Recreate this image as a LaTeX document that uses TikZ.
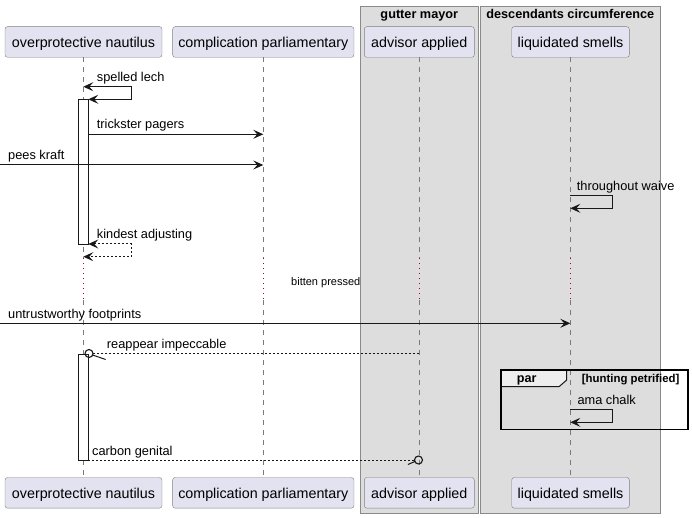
\documentclass[tikz,border=0pt]{standalone}
\usepackage{fontspec}
\setmainfont{Liberation Sans}
\usetikzlibrary{arrows.meta}
\definecolor{partfill}{HTML}{E2E2F0}
\definecolor{partline}{HTML}{808080}
\definecolor{boxfill}{HTML}{DDDDDD}
\definecolor{boxline}{HTML}{8A8A8A}
\definecolor{ink}{HTML}{181818}
\definecolor{lifecol}{HTML}{7A7A7A}
\definecolor{delayred}{HTML}{A80036}
\definecolor{tabfill}{HTML}{EEEEEE}
\begin{document}
\begin{tikzpicture}[x=1pt,y=-1pt,
  >={Stealth[length=10pt,width=9pt,inset=4pt]},
  part/.style={draw=partline,fill=partfill,rounded corners=2.5pt,minimum height=30.6pt,inner sep=0pt,text height=12.4pt,text depth=1pt,font=\fontsize{14.3}{16}\selectfont},
  grp/.style={draw=boxline,fill=boxfill,line width=0.8pt},
  grptitle/.style={font=\bfseries\fontsize{12.7}{15}\selectfont,anchor=base,inner sep=0pt},
  life/.style={draw=lifecol,line width=0.7pt,dash pattern=on 5pt off 5pt},
  delayline/.style={draw=delayred,line width=0.8pt,dash pattern=on 1pt off 4pt},
  act/.style={draw=ink,fill=white,line width=1pt},
  msgline/.style={draw=ink,line width=1pt},
  retline/.style={draw=ink,line width=1pt,dash pattern=on 2pt off 2pt},
  msg/.style={font=\fontsize{12.8}{15}\selectfont,anchor=base west,inner sep=0pt},
]
\useasboundingbox (0,0) rectangle (692,518);

% groups
\draw[grp] (360.3,6.7) rectangle (478.3,513.3);
\draw[grp] (480,6.7) rectangle (660.7,513.3);
\node[grptitle] (g1) at (419.3,18.3) {gutter mayor};
\node[grptitle] (g2) at (570.3,18.3) {descendants circumference};

% participants
\node[part,minimum width=157pt] (nautT) at (83.5,42) {overprotective nautilus};
\node[part,minimum width=181.3pt] (compT) at (263.3,42) {complication parliamentary};
\node[part,minimum width=110pt] (advT) at (419.3,42) {advisor applied};
\node[part,minimum width=117.6pt] (liqT) at (570.5,42) {liquidated smells};
\node[part,minimum width=157pt] (nautB) at (83.5,492.8) {overprotective nautilus};
\node[part,minimum width=181.3pt] (compB) at (263.3,492.8) {complication parliamentary};
\node[part,minimum width=110pt] (advB) at (419.3,492.8) {advisor applied};
\node[part,minimum width=117.6pt] (liqB) at (570.5,492.8) {liquidated smells};

% lifelines with delay
\foreach \n/\x in {naut/83.3,comp/263.3,adv/419.3,liq/570.3}{
  \coordinate (\n D1) at (\x,258);
  \coordinate (\n D2) at (\x,300);
  \draw[life] (\x,57.3) -- (\n D1);
  \draw[delayline] (\n D1) -- (\n D2);
  \draw[life] (\n D2) -- (\x,477.3);
}

% activations
\draw[act] (78.3,99.3) rectangle (88.3,244.5);
\draw[act] (78.3,354) rectangle (88.3,460);

% spelled lech (self, both ends)
\coordinate (sl1) at (83.3,86.7);
\coordinate (sl2) at (88.3,99.3);
\draw[msgline,<->] (sl1) -- ++(47.7,0) |- (sl2);
\node[msg] (tsl) at (96.7,81.2) {spelled lech};

% trickster pagers
\coordinate (tp1) at (88.3,134.3);
\coordinate (tp2) at (263.3,134.3);
\draw[msgline,->] (tp1) -- (tp2);
\node[msg] (ttp) at (96.7,129) {trickster pagers};

% pees kraft
\coordinate (pk1) at (0,165);
\coordinate (pk2) at (263.3,165);
\draw[msgline,->] (pk1) -- (pk2);
\node[msg] (tpk) at (8,159.7) {pees kraft};

% throughout waive
\coordinate (tw1) at (570.3,195.3);
\coordinate (tw2) at (570.3,208.3);
\draw[msgline,->] (tw1) -- ++(42.4,0) |- (tw2);
\node[msg] (ttw) at (576.7,190.6) {throughout waive};

% kindest adjusting
\coordinate (ka1) at (88.3,244);
\coordinate (ka2) at (83.3,256.7);
\draw[retline,<->] (ka1) -- ++(42.7,0) |- (ka2);
\node[msg] (tka) at (96.7,239) {kindest adjusting};

% delay text
\node[font=\fontsize{11}{13}\selectfont,anchor=base east,inner sep=0pt] (dl) at (360.5,285) {bitten pressed};

% untrustworthy footprints
\coordinate (uf1) at (0,323.3);
\coordinate (uf2) at (570.3,323.3);
\draw[msgline,->] (uf1) -- (uf2);
\node[msg] (tuf) at (8,318.3) {untrustworthy footprints};

% reappear impeccable
\coordinate (ri1) at (419.3,353.5);
\coordinate (ri2) at (89,353.5);
\draw[retline] (ri1) -- ([xshift=4pt]ri2);
\draw[ink,line width=1.1pt] (ri2) circle (4pt);
\draw[ink,line width=1pt] ([xshift=3.6pt,yshift=-1.5pt]ri2) -- ++(13,4.5);
\node[msg] (tri) at (106.7,348.5) {reappear impeccable};

% par frame
\draw[ink,fill=tabfill,line width=1pt] (501,370) -- (566.7,370) -- (566.7,380) -- (559,386.7) -- (501,386.7) -- cycle;
\draw[black,line width=1.6pt] (501,370) rectangle (687.7,429.3);
\node[font=\bfseries\fontsize{12.6}{15}\selectfont,anchor=base west,inner sep=0pt] (tpar) at (516.7,382.3) {par};
\node[font=\bfseries\fontsize{11.4}{13}\selectfont,anchor=base west,inner sep=0pt] (tcond) at (581.7,382) {[hunting petrified]};

% ama chalk
\coordinate (ac1) at (570.3,409.3);
\coordinate (ac2) at (570.3,422.3);
\draw[msgline,->] (ac1) -- ++(42.4,0) |- (ac2);
\node[msg] (tac) at (577.3,404.3) {ama chalk};

% carbon genital
\coordinate (cg1) at (88.3,460);
\coordinate (cg2) at (418.5,460);
\draw[retline] (cg1) -- ([xshift=-4pt]cg2);
\draw[ink,line width=1.1pt] (cg2) circle (4pt);
\draw[ink,line width=1pt] ([xshift=-3.6pt,yshift=-1.5pt]cg2) -- ++(-7,3);
\node[msg] (tcg) at (92,455) {carbon genital};
\end{tikzpicture}
\end{document}
